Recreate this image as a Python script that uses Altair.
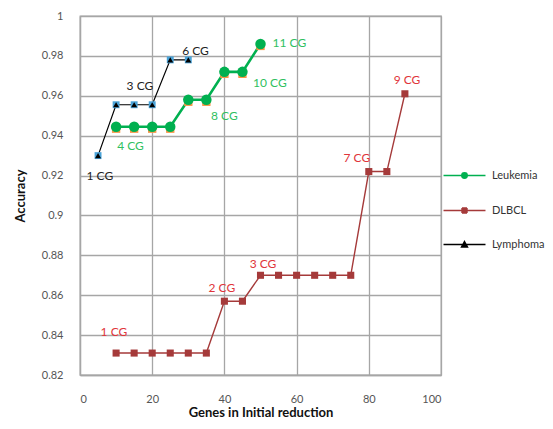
import altair as alt
import pandas as pd

# ---- data ----
series_names = ["Leukemia", "DLBCL", "Lymphoma"]
series_colors = ["#00b050", "#a53a3a", "#000000"]
label_colors = ["#2fbf5f", "#e0353a", "#222222"]
marker_shapes = ["circle", "square", "triangle-up"]
marker_sizes = [110, 50, 36]
line_widths = [2.6, 1.4, 1.2]

lym_x = [5, 10, 15, 20, 25, 30]
lym_y = [0.930, 0.9555, 0.9555, 0.9555, 0.978, 0.978]

leu_x = [10, 15, 20, 25, 30, 35, 40, 45, 50]
leu_y = [0.9445, 0.9445, 0.9445, 0.9445, 0.958, 0.958, 0.972, 0.972, 0.986]

dl_x = [10, 15, 20, 25, 30, 35, 40, 45, 50, 55, 60, 65, 70, 75, 80, 85, 90]
dl_y = [0.831, 0.831, 0.831, 0.831, 0.831, 0.831, 0.857, 0.857, 0.870,
        0.870, 0.870, 0.870, 0.870, 0.870, 0.922, 0.922, 0.961]

ann_text = ["1 CG", "3 CG", "6 CG",
            "4 CG", "8 CG", "10 CG", "11 CG",
            "1 CG", "2 CG", "3 CG", "7 CG", "9 CG"]
ann_x = [5.5, 16.6, 32.0,
         14.0, 40.0, 52.6, 58.0,
         9.4, 39.3, 50.7, 76.7, 90.6]
ann_y = [0.920, 0.965, 0.9825,
         0.935, 0.950, 0.9665, 0.9865,
         0.8415, 0.8635, 0.8755, 0.929, 0.968]
ann_series = ["Lymphoma", "Lymphoma", "Lymphoma",
              "Leukemia", "Leukemia", "Leukemia", "Leukemia",
              "DLBCL", "DLBCL", "DLBCL", "DLBCL", "DLBCL"]

x_ticks = [0, 20, 40, 60, 80, 100]
y_ticks = [0.82, 0.84, 0.86, 0.88, 0.9, 0.92, 0.94, 0.96, 0.98, 1.0]

rows = []
for name, xs, ys in [("Leukemia", leu_x, leu_y), ("DLBCL", dl_x, dl_y), ("Lymphoma", lym_x, lym_y)]:
    for xv, yv in zip(xs, ys):
        rows.append({"x": xv, "y": yv, "series": name})
df = pd.DataFrame(rows)
ann = pd.DataFrame({"text": ann_text, "x": ann_x, "y": ann_y, "series": ann_series})

FONT = "Lato"
GRID = "#a6a6a6"

xenc = alt.X("x:Q", scale=alt.Scale(domain=[0, 100], nice=False),
             axis=alt.Axis(values=x_ticks, title="Genes in Initial reduction", ticks=False,
                           labelPadding=18, titlePadding=2, grid=True, labelOverlap=False))
yenc = alt.Y("y:Q", scale=alt.Scale(domain=[0.82, 1.0], nice=False, zero=False),
             axis=alt.Axis(values=y_ticks, format=".2~f", title="Accuracy", ticks=False,
                           labelPadding=17, titlePadding=14, grid=True, labelOverlap=False))

color_scale = alt.Scale(domain=series_names, range=series_colors)

# legend symbols (stroke only): a line segment with a solid-looking marker in the middle
LINE = "M-2.5,0H2.5"
circle_p = (LINE + "M0.33,0A0.33,0.33,0,1,1,-0.33,0A0.33,0.33,0,1,1,0.33,0"
            "M-0.33,0H0.33M-0.307,-0.12H0.307M-0.307,0.12H0.307"
            "M-0.226,-0.24H0.226M-0.226,0.24H0.226")
square_p = (LINE + "M-0.3,-0.3H0.3M-0.3,-0.15H0.3M-0.3,0.15H0.3M-0.3,0.3H0.3"
            "M-0.3,-0.3V0.3M0.3,-0.3V0.3")
tri_p = (LINE + "M0,-0.36L0.36,0.3H-0.36Z"
         "M-0.36,0.3H0.36M-0.278,0.15H0.278M-0.196,0H0.196"
         "M-0.115,-0.15H0.115M-0.04,-0.3H0.04")

legend = alt.Legend(
    title=None, orient="none", legendX=375, legendY=150,
    labelFont=FONT, labelFontSize=11, labelColor="#333333",
    labelOffset=18, rowPadding=19, symbolSize=282, symbolStrokeWidth=1.4,
    symbolOpacity=1,
)

base = alt.Chart(df).encode(x=xenc, y=yenc)

layers = []
for name, col, lw in zip(series_names, series_colors, line_widths):
    layers.append(base.mark_line(color=col, strokeWidth=lw).transform_filter(alt.datum.series == name))

layers.append(base.mark_point(shape="square", filled=True, color="#4aa3d8", size=48, opacity=1).transform_filter(
    alt.datum.series == "Lymphoma"))
layers.append(base.mark_point(shape="square", filled=True, color="#f79646", size=70, opacity=1).encode(
    yOffset=alt.value(2)).transform_filter(alt.datum.series == "Leukemia"))

for name, col, shp, sz in zip(series_names, series_colors, marker_shapes, marker_sizes):
    layers.append(
        base.mark_point(filled=True, opacity=1, shape=shp, size=sz, color=col).transform_filter(
            alt.datum.series == name)
    )

# layer whose marks are pushed outside the clipped plot; it only supplies the legend
layers.append(base.mark_point(filled=False, clip=True).encode(
    color=alt.Color("series:N", scale=color_scale, legend=legend),
    shape=alt.Shape("series:N", scale=alt.Scale(domain=series_names, range=[circle_p, square_p, tri_p]), legend=legend),
    yOffset=alt.value(3000),
))

for name, lc in zip(series_names, label_colors):
    layers.append(
        alt.Chart(ann).transform_filter(alt.datum.series == name).mark_text(
            font=FONT, fontSize=12, color=lc).encode(
            x=xenc, y=yenc, text="text:N")
    )

chart = alt.layer(*layers).properties(
    width=361, height=359,
    autosize="none",
    padding={"left": 72, "top": 8, "right": 104, "bottom": 46},
).configure_axis(
    gridColor=GRID, gridWidth=1.3, domainColor=GRID, domainWidth=1.3,
    labelFont=FONT, labelFontSize=11, labelColor="#555555",
    titleFont=FONT, titleFontSize=13, titleFontWeight="bold", titleColor="#111111",
).configure_view(stroke=GRID, strokeWidth=1.3)

chart.save("out.html", embed_options={"renderer": "svg", "actions": False})
